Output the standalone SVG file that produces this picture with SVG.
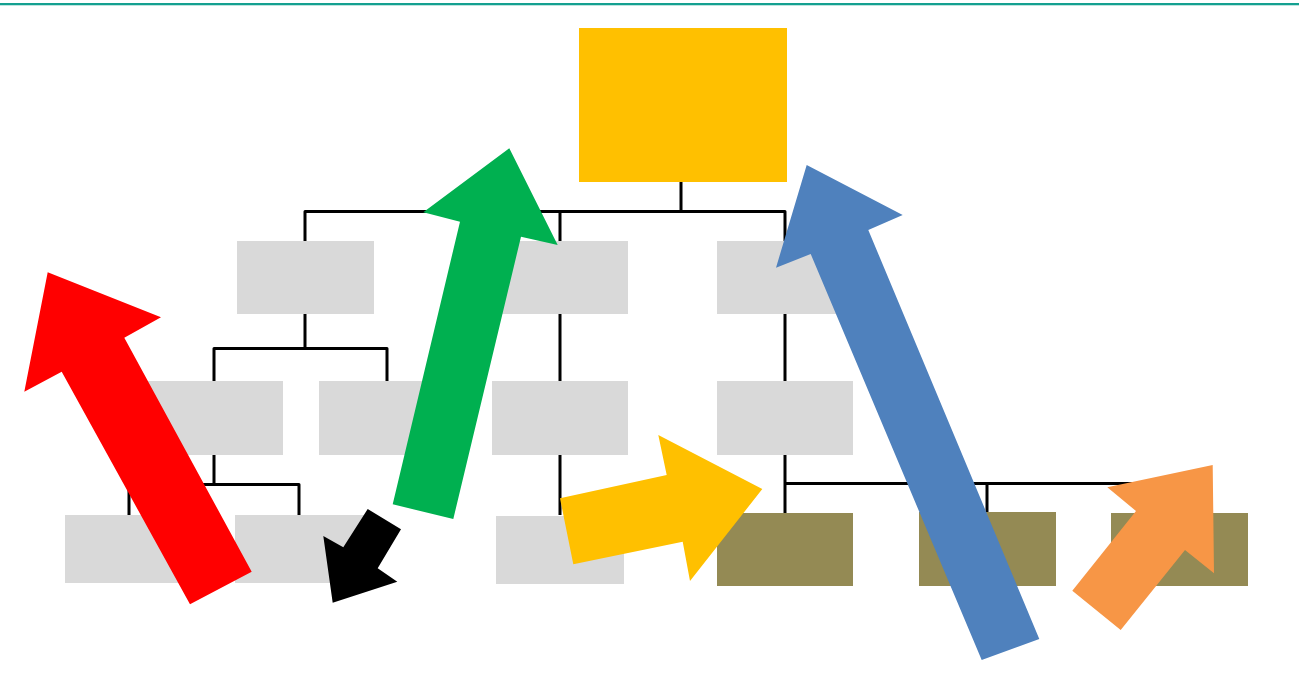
<svg xmlns="http://www.w3.org/2000/svg" width="1299" height="676" viewBox="0 0 1299 676">
<style>
.g{fill:#D9D9D9}
.o{fill:#948A54}
.c{fill:none;stroke:#000;stroke-width:3;stroke-linejoin:round}
</style>
<rect width="1299" height="676" fill="#fff"/>
<rect x="0" y="3" width="1299" height="2" fill="#14A090"/>
<rect x="0" y="5" width="1299" height="1" fill="#BDE5E0"/>
<g id="connectors">
<path class="c" d="M681,182V211.5M305,241V211.5H785V241M560,211.5V241"/>
<path class="c" d="M305,314V348.5M214,381V348.5H387V381"/>
<path class="c" d="M214,455V484.5M129,515V484.5H299V515"/>
<path class="c" d="M560,314V381M560,455V515"/>
<path class="c" d="M785,314V381M785,455V513M785,483.5H1179V512M987,483.5V512"/>
</g>
<g id="root"><rect x="579" y="28" width="208" height="154" fill="#FFC000"/></g>
<g id="n-a"><rect class="g" x="237" y="241" width="137" height="73"/></g>
<g id="n-b"><rect class="g" x="492" y="241" width="136" height="73"/></g>
<g id="n-c"><rect class="g" x="717" y="241" width="136" height="73"/></g>
<g id="n-d"><rect class="g" x="147" y="381" width="136" height="74"/></g>
<g id="n-e"><rect class="g" x="319" y="381" width="136" height="74"/></g>
<g id="n-f"><rect class="g" x="492" y="381" width="136" height="74"/></g>
<g id="n-g"><rect class="g" x="717" y="381" width="136" height="74"/></g>
<g id="n-h"><rect class="g" x="65" y="515" width="136" height="68"/></g>
<g id="n-i"><rect class="g" x="235" y="515" width="136" height="68"/></g>
<g id="n-j"><rect class="g" x="496" y="516" width="128" height="68"/></g>
<g id="n-k"><rect class="o" x="717" y="513" width="136" height="73"/></g>
<g id="n-l"><rect class="o" x="919" y="512" width="137" height="74"/></g>
<g id="n-m"><rect class="o" x="1111" y="513" width="137" height="73"/></g>
<g id="arrows">
<polygon id="arrow-red" fill="#FF0000" points="47.7,272.3 161,317.3 124.3,337.7 251.7,571.7 190,604.3 61.7,371.7 24.3,391.7"/>
<polygon id="arrow-green" fill="#00B050" points="509.3,148.3 557.7,245 521,236.7 453.3,519 392.7,504.3 460,221.7 423.3,212.3"/>
<polygon id="arrow-black" fill="#000" points="367.7,509 401,529.3 377.7,568.3 397.3,581.7 332.7,602.7 323.3,536 343.3,547.3"/>
<polygon id="arrow-yellow" fill="#FFC000" points="560,498.3 666.7,475 658.3,435 762.3,489 690,581 682.7,541.7 573.3,564.3"/>
<polygon id="arrow-blue" fill="#4F81BD" points="806.7,165 902.7,215 868.3,230 1039.3,639 981.7,660 810.7,254 776,267.7"/>
<polygon id="arrow-orange" fill="#F79646" points="1212.7,465 1214,573.3 1185,550 1120.7,630 1072.3,590.7 1136,511 1107.3,487.3"/>
</g>
</svg>
